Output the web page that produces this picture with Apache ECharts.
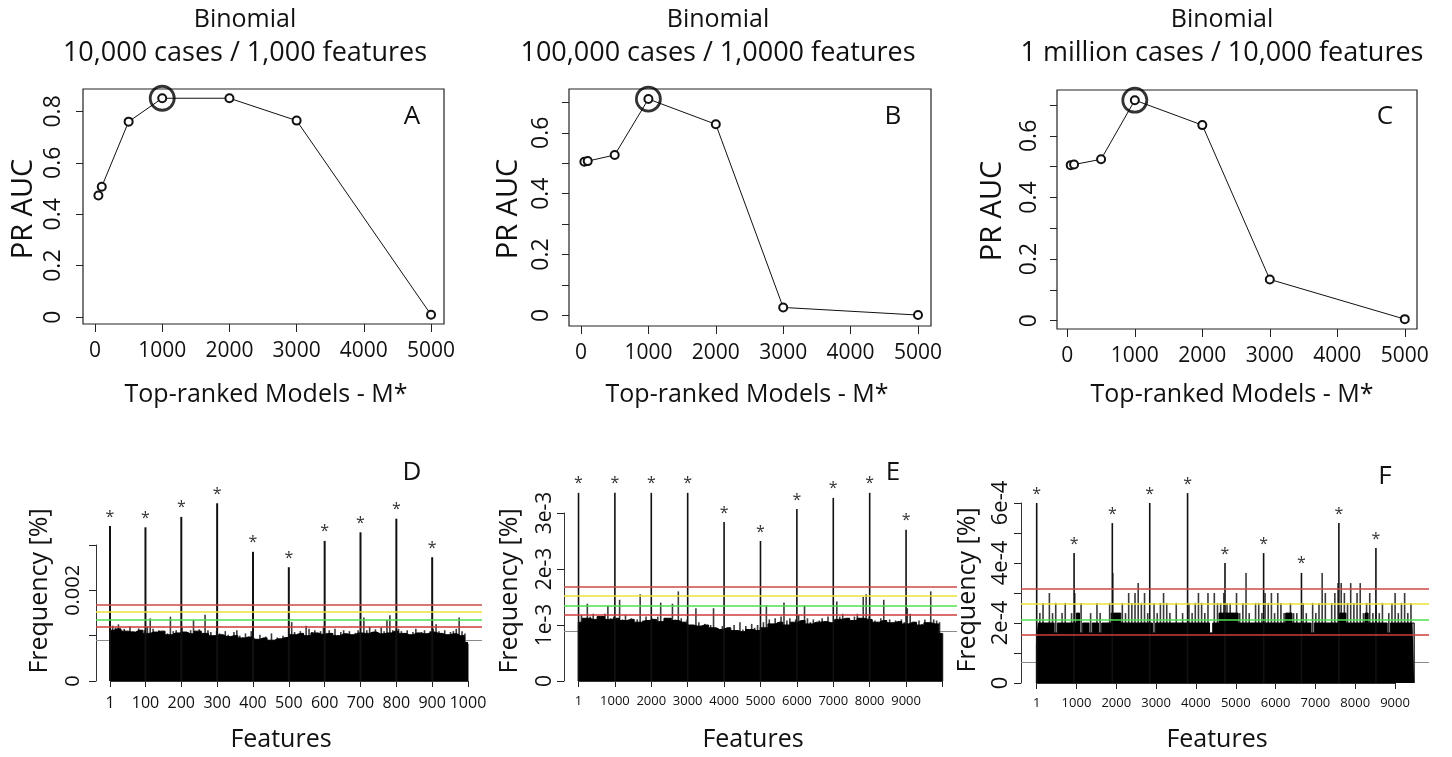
<!DOCTYPE html>
<html>
<head>
<meta charset="utf-8">
<script src="https://cdn.jsdelivr.net/npm/echarts@6/dist/echarts.min.js"></script>
<style>
  html, body { margin: 0; padding: 0; background: #fff; }
  #chart { width: 1452px; height: 757px; }
</style>
</head>
<body>
<div id="chart"></div>
<script>
// ---- top row: PR AUC vs number of top-ranked models ----
const modelsM = [50, 100, 500, 1000, 2000, 3000, 5000];
const aucA = [0.473, 0.507, 0.760, 0.851, 0.851, 0.764, 0.009];
const aucB = [0.505, 0.507, 0.527, 0.711, 0.628, 0.026, 0.001];
const aucC = [0.505, 0.507, 0.524, 0.716, 0.635, 0.134, 0.005];
const bestIdx = 3;
const topXTicks = [0, 1000, 2000, 3000, 4000, 5000];
const topYTicksA = [0, 0.2, 0.4, 0.6, 0.8];
const topYTicksBC = [0, 0.1, 0.2, 0.3, 0.4, 0.5, 0.6, 0.7];
const topYLabelsBC = [0, 0.2, 0.4, 0.6];

// ---- bottom row: selection frequency per feature (D, E in 1e-3, F in 1e-4) ----
// solid body of the histogram
const baseD = [1.12, 1.15, 1.1, 1.08, 1.12, 1.05, 1.08, 1.1, 1.02, 1.06, 1.08, 1.04, 1.1, 1.05, 1.0,
  1.02, 0.98, 1.0, 0.95, 0.97, 0.92, 0.95, 0.9, 0.93, 0.96, 1.02, 1.05, 1.0, 1.06, 1.03,
  1.05, 1.0, 1.04, 1.02, 1.06, 1.05, 1.08, 1.04, 1.06, 1.1, 1.05, 1.02, 1.06, 1.04, 1.08,
  1.05, 1.02, 1.04, 1.0, 0.85];
const baseE = [1.05, 1.12, 1.1, 1.15, 1.1, 1.12, 1.08, 1.1, 1.05, 1.08, 1.1, 1.06, 1.12, 1.08, 1.05,
  1.0, 0.98, 1.0, 0.95, 0.92, 0.95, 0.9, 0.88, 0.92, 0.9, 0.95, 1.02, 1.05, 1.0, 1.05,
  1.08, 1.02, 1.05, 1.06, 1.04, 1.1, 1.12, 1.08, 1.12, 1.1, 1.05, 1.08, 1.04, 1.06, 1.02,
  1.05, 1.0, 1.04, 1.02, 0.85];
const baseF = [1.33, 2, 2, 2, 2, 2, 1.67, 2, 2, 2, 2, 2, 2, 2.33, 1.67, 2, 2, 1.67, 2, 2,
  1.67, 2, 2, 2, 2.33, 2.33, 2.33, 2, 2, 2, 2, 2, 2, 2, 2, 2, 2, 1.67, 2, 2,
  2, 2, 2, 2, 2, 2, 2, 2, 2, 2, 2, 2, 2, 2, 2, 1.67, 2, 2, 2.33, 2.33,
  2.33, 2.33, 2.33, 2.33, 2, 2, 2, 2, 2, 2, 2, 2, 2, 2, 2, 2, 2, 2, 2, 2.33,
  2.33, 2, 2, 2, 2, 2, 2, 1.67, 2, 2, 2, 2, 2, 2, 2, 2, 2.33, 2.33, 2, 2,
  2, 2, 2, 2, 2.33, 2, 2, 2, 2, 2, 2, 1.67, 2, 2, 2, 2, 2, 2, 2, 2];
// thin ragged tops
const peakD = [1.05, 1.22, 1.18, 1.25, 1.12, 1.15, 1.08, 1.2, 1.1, 1.05, 1.16, 1.02, 1.12,
  1.2, 1.38, 1.15, 1.08, 1.12, 1.0, 1.1, 1.05, 1.42, 1.1, 1.12, 1.04,
  1.18, 1.08, 1.0, 1.12, 1.35, 1.08, 1.14, 1.02, 1.46, 1.12, 1.08, 1.0, 1.1,
  1.05, 0.98, 1.1, 1.02, 0.95, 1.08, 1.12, 1.0, 0.96, 1.05, 0.98, 1.1, 0.95,
  0.92, 1.02, 0.88, 0.98, 0.9, 1.05, 0.86, 0.96, 0.92, 1.0, 0.95, 1.02,
  1.3, 1.08, 1.0, 1.1, 1.05, 1.22, 1.15, 1.08, 1.12, 1.02, 1.1, 1.18, 1.06,
  1.12, 1.05, 1.15, 1.0, 1.08, 1.12, 1.04, 1.1, 0.98, 1.06, 1.12, 1.05,
  1.4, 1.12, 1.2, 1.08, 1.14, 1.05, 1.18, 1.1, 1.35, 1.45, 1.12, 1.08, 1.15,
  1.1, 1.05, 1.12, 1.02, 1.08, 1.15, 1.0, 1.08, 1.12, 1.05, 1.1, 1.15,
  1.25, 1.1, 1.05, 1.12, 1.02, 1.08, 1.1, 1.15, 1.4, 1.1, 1.05, 0.82];
const peakE = [1.05, 1.18, 1.12, 1.38, 1.15, 1.2, 1.1, 1.14, 1.08, 1.2, 1.35, 1.12, 1.15,
  1.05, 1.45, 1.1, 1.18, 1.05, 1.12, 1.0, 1.1, 1.55, 1.08, 1.15, 1.05, 1.12,
  1.08, 1.15, 1.4, 1.05, 1.12, 1.0, 1.38, 1.1, 1.6, 1.12, 1.05, 1.1,
  1.0, 0.98, 1.3, 1.05, 0.95, 1.02, 0.92, 1.0, 1.3, 0.95, 0.9, 0.98, 0.88,
  0.95, 0.85, 1.0, 0.9, 1.05, 0.92, 0.98, 0.88, 1.02, 0.95, 1.0, 0.96,
  1.05, 1.35, 1.1, 1.0, 1.12, 1.05, 1.15, 1.4, 1.08, 1.12, 1.0, 1.1, 1.18,
  1.08, 1.35, 1.12, 1.05, 1.1, 1.0, 1.08, 1.12, 1.05, 1.15, 1.02, 1.1,
  1.42, 1.15, 1.2, 1.1, 1.12, 1.05, 1.15, 1.2, 1.12, 1.5, 1.55, 1.15, 1.1,
  1.08, 1.05, 1.12, 1.45, 1.05, 1.1, 1.0, 1.08, 1.02, 1.1, 1.05, 1.3,
  1.2, 1.05, 1.0, 1.08, 1.02, 1.1, 1.05, 1.6, 1.1, 1.08, 1.05, 0.85];
const peakF = [1.33, 2.33, 2.67, 2, 3, 2.33, 2.67, 1.67, 2.33, 2.67, 2, 2.33,
  3, 2.33, 2.67, 1.67, 2, 2.33, 1.67, 2.67, 2.33, 2, 1.67, 2.67,
  3.67, 2.33, 2, 2.67, 2.33, 3, 2.67, 3, 3.33, 2.67, 3, 2.33,
  1.67, 2.67, 2.33, 2.67, 3, 2.67, 2.33, 2, 2.67, 2, 2.33, 1.67,
  2.67, 2.33, 2.67, 3, 2.67, 2.33, 3, 1.67, 3, 2.67, 2.67, 3,
  2.67, 2.67, 2.33, 3, 2.33, 2.67, 3.67, 2.33, 2, 2.67, 2.67, 2.33,
  3, 2.67, 3, 2.33, 3, 2.67, 2.33, 2, 2.67, 2.33, 2.33, 2,
  2.67, 2.33, 1.67, 2.67, 2.33, 2.67, 3.67, 3, 2, 2.67, 3, 3.33,
  3.33, 3, 2.67, 3.33, 2.67, 3, 3.33, 2.33, 2.67, 3, 2.33, 2.67,
  2.33, 2.67, 1.67, 2.33, 2.67, 3, 2.33, 2.67, 3, 2.33, 2.67, 2];
const spikeXD = [1, 100, 200, 300, 400, 500, 600, 700, 800, 900];
const spikeD = [3.42, 3.39, 3.62, 3.92, 2.85, 2.51, 3.09, 3.28, 3.58, 2.73];
const spikeXE = [1, 1000, 2000, 3000, 4000, 5000, 6000, 7000, 8000, 9000];
const spikeE = [3.36, 3.36, 3.36, 3.36, 2.84, 2.50, 3.07, 3.27, 3.36, 2.70];
const spikeXF = [1, 940, 1900, 2840, 3790, 4730, 5700, 6650, 7590, 8520];
const spikeF = [6.0, 4.33, 5.33, 6.0, 6.33, 4.0, 4.33, 3.67, 5.33, 4.5];
const meanLine = [0.89, 0.894, 0.69];
const thresholds = [[1.678, 1.53, 1.353, 1.19], [1.68, 1.53, 1.354, 1.19], [3.14, 2.64, 2.10, 1.60]];
const featRange = [[1, 1000], [1, 10000], [1, 9480]];
const xTicksD = [1, 100, 200, 300, 400, 500, 600, 700, 800, 900, 1000];
const xTicksE = [1, 1000, 2000, 3000, 4000, 5000, 6000, 7000, 8000, 9000, 10000];
const xLabelsE = [1, 1000, 2000, 3000, 4000, 5000, 6000, 7000, 8000, 9000];
const xTicksF = [1, 1000, 2000, 3000, 4000, 5000, 6000, 7000, 8000, 9000];

const FONT = 'Open Sans';
const thrColors = ['#cc4a4a', '#eee23a', '#4fe04f', '#d03c3c'];

const chart = echarts.init(document.getElementById('chart'));

const grids = [
  { left: 83, top: 89, width: 361, height: 235 },
  { left: 569, top: 89, width: 362, height: 237 },
  { left: 1057, top: 90, width: 360, height: 239 },
  { left: 96, top: 545, width: 386, height: 136 },
  { left: 564, top: 513, width: 393, height: 168 },
  { left: 1021, top: 503, width: 408, height: 180 }
];
grids.forEach((g, i) => {
  g.containLabel = false;
  g.show = i < 3;
  g.borderColor = '#222';
  g.borderWidth = 1.2;
  g.backgroundColor = 'transparent';
});

const xRanges = [[-179, 5193], [-178, 5193], [-153, 5181], [-38, 1039], [-398, 10399], [-393, 9853]];
const yRanges = [[-0.027, 0.887], [-0.035, 0.744], [-0.027, 0.749], [0, 3], [0, 3], [0, 6]];

function fmtTop(v) { return v === 0 ? '0' : String(+v.toFixed(1)); }

const xAxes = xRanges.map((r, i) => {
  const top = i < 3;
  const ticks = top ? topXTicks : [xTicksD, xTicksE, xTicksF][i - 3];
  const labels = top ? topXTicks : [xTicksD, xLabelsE, xTicksF][i - 3];
  return {
    type: 'value', gridIndex: i, min: r[0], max: r[1],
    axisLine: { show: false, onZero: false },
    splitLine: { show: false },
    axisTick: { show: true, customValues: ticks, length: top ? 8 : 6, lineStyle: { color: '#222', width: 1 } },
    axisLabel: {
      customValues: labels, formatter: v => String(Math.round(v)), color: '#111', fontFamily: FONT,
      fontSize: top ? 21 : (i === 3 ? 16 : 13), margin: top ? 17 : 14,
      hideOverlap: false
    }
  };
});

const yAxes = yRanges.map((r, i) => {
  let ticks, labels, fmt, size, margin;
  if (i === 0) { ticks = topYTicksA; labels = topYTicksA; fmt = fmtTop; size = 23; margin = 18; }
  else if (i < 3) { ticks = topYTicksBC; labels = topYLabelsBC; fmt = fmtTop; size = 23; margin = 16; }
  else if (i === 3) { ticks = [0, 1, 2, 3]; labels = [0, 2]; fmt = v => v === 0 ? '0' : (v / 1000).toFixed(3); size = 20; margin = 13; }
  else if (i === 4) { ticks = [0, 1, 2, 3]; labels = [0, 1, 2, 3]; fmt = v => v === 0 ? '0' : v + 'e-3'; size = 21; margin = 8; }
  else { ticks = [0, 1, 2, 3, 4, 5, 6]; labels = [0, 2, 4, 6]; fmt = v => v === 0 ? '0' : v + 'e-4'; size = 22; margin = 9; }
  return {
    type: 'value', gridIndex: i, min: r[0], max: r[1],
    axisLine: { show: i >= 3, onZero: false, lineStyle: { color: '#333', width: 1 } },
    splitLine: { show: false },
    axisTick: { show: true, customValues: ticks, length: 7, lineStyle: { color: '#222', width: 1 } },
    axisLabel: {
      customValues: labels, formatter: fmt, rotate: 90, color: '#111',
      fontFamily: FONT, fontSize: size, margin: margin, hideOverlap: false
    }
  };
});

const series = [];

// top panels
[aucA, aucB, aucC].forEach((auc, k) => {
  series.push({
    type: 'line', xAxisIndex: k, yAxisIndex: k,
    data: modelsM.map((m, j) => [m, auc[j]]),
    symbol: 'emptyCircle', symbolSize: 8,
    lineStyle: { color: '#111', width: 1 },
    itemStyle: { color: '#111', borderColor: '#111', borderWidth: 1 },
    silent: true, z: 2
  });
  series.push({
    type: 'scatter', xAxisIndex: k, yAxisIndex: k,
    data: [[modelsM[bestIdx], auc[bestIdx]]],
    symbol: 'circle', symbolSize: 24,
    itemStyle: { color: 'rgba(0,0,0,0)', borderColor: '#000', borderWidth: 2.8 },
    silent: true, z: 3
  });
});

// bottom panels
function positions(n, range) {
  return Array.from({ length: n }, (_, i) => range[0] + i * (range[1] - range[0]) / (n - 1));
}

[[baseD, peakD, spikeXD, spikeD], [baseE, peakE, spikeXE, spikeE], [baseF, peakF, spikeXF, spikeF]].forEach((p, j) => {
  const k = j + 3;
  const xb = positions(p[0].length, featRange[j]);
  const xp = positions(p[1].length, featRange[j]);
  // mean line, hidden behind the bars
  series.push({
    type: 'line', xAxisIndex: k, yAxisIndex: k, data: [], silent: true, z: 1,
    markLine: {
      z: 1, silent: true, symbol: 'none', label: { show: false },
      data: [{ yAxis: meanLine[j] }],
      lineStyle: { color: '#8a8a8a', width: 1.2, type: 'solid' }
    }
  });
  series.push({
    type: 'bar', xAxisIndex: k, yAxisIndex: k, barWidth: 1.6, barGap: '-100%',
    data: xp.map((x, i) => [x, p[1][i]]),
    itemStyle: { color: '#3a3a3a' }, silent: true, z: 2
  });
  series.push({
    type: 'line', xAxisIndex: k, yAxisIndex: k,
    data: xb.map((x, i) => [x, p[0][i]]),
    step: 'middle', symbol: 'none',
    lineStyle: { color: '#000', width: 1 },
    areaStyle: { color: '#000', opacity: 1 },
    silent: true, z: 3
  });
  series.push({
    type: 'bar', xAxisIndex: k, yAxisIndex: k, barWidth: j === 0 ? 2 : 1.6, barGap: '-100%',
    data: p[2].map((x, i) => [x, p[3][i]]),
    itemStyle: { color: '#111' }, clip: false, silent: true, z: 4,
    label: { show: true, position: 'top', formatter: '*', fontSize: 16, color: '#333', distance: 1, fontFamily: FONT }
  });
  series.push({
    type: 'line', xAxisIndex: k, yAxisIndex: k, data: [], silent: true, z: 5,
    markLine: {
      silent: true, symbol: 'none', label: { show: false },
      data: thresholds[j].map((v, i) => ({ yAxis: v, lineStyle: { color: thrColors[i], width: 1.5, type: 'solid' } }))
        .concat([[{ coord: [featRange[j][0], 0] }, { coord: [j === 2 ? 9000 : featRange[j][1], 0], lineStyle: { color: '#333', width: 1.2, type: 'solid' } }]])
    }
  });
});

function txt(text, x, y, size, rot) {
  return {
    type: 'text', x: x, y: y, rotation: rot ? Math.PI / 2 : 0, silent: true,
    style: {
      text: text, font: size + 'px "' + FONT + '"', fill: '#111',
      align: 'center', verticalAlign: 'middle', textAlign: 'center', textVerticalAlign: 'middle'
    }
  };
}

const graphics = [
  txt('Binomial', 245, 20, 25), txt('10,000 cases / 1,000 features', 245, 53, 27),
  txt('Binomial', 718, 20, 25), txt('100,000 cases / 1,0000 features', 718, 53, 27),
  txt('Binomial', 1222, 20, 25), txt('1 million cases / 10,000 features', 1222, 53, 27),
  txt('A', 412, 117, 26), txt('B', 893, 117, 26), txt('C', 1385, 117, 26),
  txt('D', 412, 473, 26), txt('E', 893, 473, 26), txt('F', 1385, 477, 26),
  txt('PR AUC', 24, 209, 29, true), txt('PR AUC', 509, 209, 29, true), txt('PR AUC', 993, 211, 29, true),
  txt('Top-ranked Models - M*', 266, 395, 25), txt('Top-ranked Models - M*', 747, 395, 25), txt('Top-ranked Models - M*', 1232, 395, 25),
  txt('Frequency [%]', 40, 591, 25, true), txt('Frequency [%]', 510, 591, 25, true), txt('Frequency [%]', 968, 590, 25, true),
  txt('Features', 281, 740, 25), txt('Features', 753, 740, 25), txt('Features', 1217, 740, 25)
];

chart.setOption({
  animation: false,
  backgroundColor: '#fff',
  grid: grids,
  xAxis: xAxes,
  yAxis: yAxes,
  series: series,
  graphic: { elements: graphics }
});
</script>
</body>
</html>
